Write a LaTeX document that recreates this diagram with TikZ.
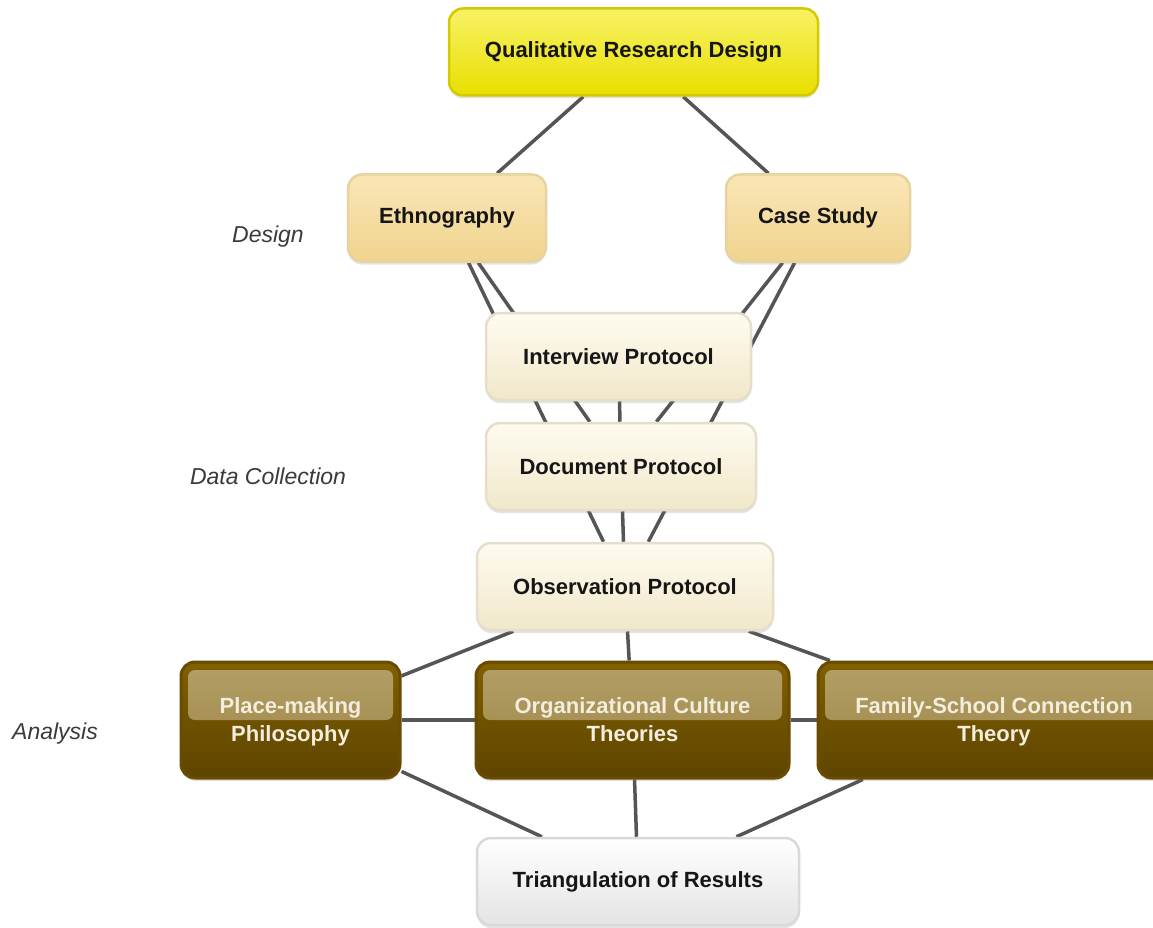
\documentclass[tikz,border=0pt]{standalone}
\usepackage{fontspec}
\setmainfont{Liberation Sans}
\usetikzlibrary{shadows,backgrounds}

\definecolor{linkgray}{HTML}{555555}
\definecolor{textdark}{HTML}{161616}
\definecolor{phasegray}{HTML}{3A3A3A}
\definecolor{qrdtop}{HTML}{F8F266}
\definecolor{qrdbottom}{HTML}{E8DF00}
\definecolor{qrdline}{HTML}{D4CA00}
\definecolor{tantop}{HTML}{FAE6B6}
\definecolor{tanbottom}{HTML}{F0D48E}
\definecolor{tanline}{HTML}{E6D3A0}
\definecolor{creamtop}{HTML}{FEFBF0}
\definecolor{creambottom}{HTML}{F1E8CA}
\definecolor{creamline}{HTML}{E5DECB}
\definecolor{greytop}{HTML}{FFFFFF}
\definecolor{greybottom}{HTML}{E4E4E4}
\definecolor{greyline}{HTML}{D9D9D9}
\definecolor{browntop}{HTML}{806000}
\definecolor{brownbottom}{HTML}{5E4400}
\definecolor{brownline}{HTML}{6A4B00}
\definecolor{glosstop}{HTML}{B3A068}
\definecolor{glossbottom}{HTML}{9C8242}
\definecolor{browntext}{HTML}{F2EDDD}

\begin{document}
\begin{tikzpicture}[
  x=1pt, y=-1pt,
  box/.style={rounded corners=14pt, line width=2.5pt, align=center,
    font=\fontsize{22}{28}\selectfont\bfseries, text=textdark,
    minimum height=87pt,
    drop shadow={opacity=0.22, shadow xshift=0pt, shadow yshift=-3pt}},
  topbox/.style={box, draw=qrdline, top color=qrdtop, bottom color=qrdbottom},
  designbox/.style={box, draw=tanline, top color=tantop, bottom color=tanbottom},
  protobox/.style={box, draw=creamline, top color=creamtop, bottom color=creambottom},
  resultbox/.style={box, draw=greyline, top color=greytop, bottom color=greybottom},
  theorybox/.style={box, minimum height=116pt, draw=brownline, line width=3pt,
    text depth=-3pt,
    top color=browntop, bottom color=brownbottom, text=browntext,
    path picture={\shade [top color=glosstop, bottom color=glossbottom, rounded corners=7pt]
      ([xshift=7pt, yshift=-8pt]path picture bounding box.north west) rectangle
      ([xshift=-7pt]path picture bounding box.east);}},
  link/.style={draw=linkgray, line width=3.5pt},
  phase/.style={font=\fontsize{23}{28}\selectfont\itshape, text=phasegray}
]
\useasboundingbox (0,0) rectangle (1153,928);

\node [topbox, minimum width=369pt] (qrd) at (633.5,52) {Qualitative Research Design};
\node [designbox, minimum width=198pt] (eth) at (447,218) {Ethnography};
\node [designbox, minimum width=184pt] (case) at (818,218) {Case Study};
\node [protobox, minimum width=265pt] (int) at (618.5,356.5) {Interview Protocol};
\node [protobox, minimum width=270pt] (doc) at (621,466.5) {Document Protocol};
\node [protobox, minimum width=296pt] (obs) at (625,586.5) {Observation Protocol};
\node [theorybox, minimum width=219pt] (place) at (290.5,720) {Place-making\\Philosophy};
\node [theorybox, minimum width=313pt] (org) at (632.5,720) {Organizational Culture\\Theories};
\node [theorybox, minimum width=352pt] (fam) at (994,720) {Family-School Connection\\Theory};
\node [resultbox, minimum width=322pt] (tri) at (638,881.5) {Triangulation of Results};

\node [phase] (design) at (268,237) {Design};
\node [phase] (collect) at (268,476) {Data Collection};
\node [phase] (analysis) at (55,734) {Analysis};

\begin{pgfonlayer}{background}
\draw [link] (qrd) -- (eth);
\draw [link] (qrd) -- (case);
\draw [link] (eth) -- (doc);
\draw [link] (eth) -- (obs);
\draw [link] (case) -- (doc);
\draw [link] (case) -- (obs);
\draw [link] (int) -- (doc);
\draw [link] (doc) -- (obs);
\draw [link] (obs) -- (place);
\draw [link] (obs) -- (org);
\draw [link] (obs) -- (fam);
\draw [link] (place) -- (org);
\draw [link] (org) -- (fam);
\draw [link] (place) -- (tri);
\draw [link] (org) -- (tri);
\draw [link] (fam) -- (tri);
\end{pgfonlayer}
\end{tikzpicture}
\end{document}
